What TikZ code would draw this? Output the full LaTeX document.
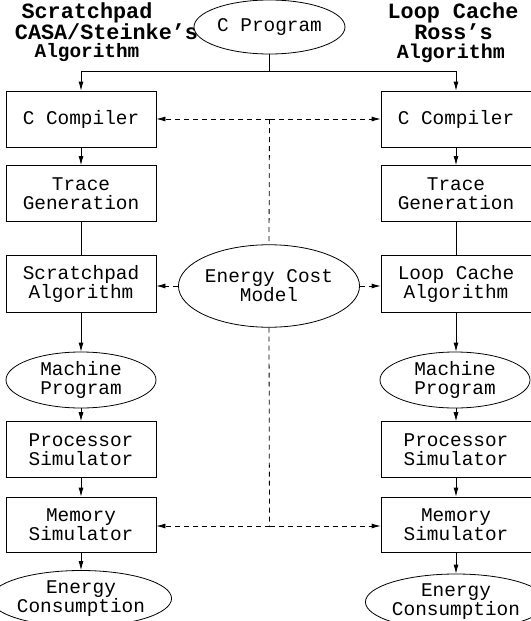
\documentclass[tikz,border=0pt]{standalone}
\usepackage{fontspec}
\newfontfamily\cour{Liberation Mono}
\usetikzlibrary{arrows.meta,shapes.geometric}
\begin{document}
\begin{tikzpicture}[x=1pt,y=-1pt,
  every node/.style={inner sep=0pt},
  box/.style={draw,line width=0.8pt,minimum width=150pt,minimum height=56pt,align=center,
    font=\cour\fontsize{19.4}{19}\selectfont},
  oval/.style={draw,ellipse,line width=0.8pt,minimum width=150pt,minimum height=56pt,align=center,
    font=\cour\fontsize{19.4}{19}\selectfont},
  ttl/.style={anchor=base,font=\cour\bfseries\fontsize{21.8}{21}\selectfont},
  ttls/.style={anchor=base,font=\cour\bfseries\fontsize{19.4}{19}\selectfont},
  conn/.style={line width=0.8pt},
  arr/.style={conn,-{Latex[length=9pt,width=5pt]}},
  darr/.style={arr,dash pattern=on 5pt off 4pt},
  dline/.style={conn,dash pattern=on 5pt off 4pt}]
\useasboundingbox (0,0) rectangle (530,621);

% titles
\node[ttl] (lt1) at (87,18.6) {Scratchpad};
\node[ttl] (lt2) at (106.5,39) {CASA/Steinke’s};
\node[ttls] (lt3) at (87,57.5) {Algorithm};
\node[ttl] (rt1) at (453,18.6) {Loop Cache};
\node[ttl] (rt2) at (453.5,39) {Ross’s};
\node[ttls,font=\cour\bfseries\fontsize{20}{20}\selectfont] (rt3) at (451,58) {Algorithm};

% top
\node[oval,fill=white,minimum width=151pt,minimum height=54pt] (cp) at (269.5,27) {C Program};

% left column
\node[box] (lcc) at (81,119) {C Compiler};
\node[box] (ltr) at (81,193.5) {Trace\\Generation};
\node[box,minimum height=57pt] (lsp) at (81,284) {Scratchpad\\Algorithm};
\node[oval] (lmp) at (81,380) {Machine\\Program};
\node[box] (lps) at (81,449.6) {Processor\\Simulator};
\node[box,minimum height=55pt] (lms) at (81,524.5) {Memory\\Simulator};
\node[oval] (lec) at (81,598.5) {Energy\\Consumption};

% right column
\node[box] (rcc) at (456,119) {C Compiler};
\node[box] (rtr) at (456,193.5) {Trace\\Generation};
\node[box,minimum height=57pt] (rsp) at (456,284) {Loop Cache\\Algorithm};
\node[oval] (rmp) at (455,380) {Machine\\Program};
\node[box] (rps) at (456,449.6) {Processor\\Simulator};
\node[box,minimum height=55pt] (rms) at (456,524.5) {Memory\\Simulator};
\node[oval] (rec) at (456,602) {Energy\\Consumption};

% center
\node[oval,minimum width=158pt,minimum height=82.5pt] (ecm) at (269,286) {Energy Cost\\Model};

% connectors
\coordinate (split) at (269.5,71);
\coordinate (dtop) at (269.5,119);
\coordinate (dbot) at (269.5,526);
\draw[conn] (cp.south) -- (split);
\draw[arr] (split) -| (lcc.north);
\draw[arr] (split) -| (rcc.north);

\draw[arr] (lcc) -- (ltr);
\draw[conn] (ltr) -- (lsp);
\draw[arr] (lsp) -- (lmp);
\draw[arr] (lmp) -- (lps);
\draw[arr] (lps) -- (lms);
\draw[arr] (lms) -- (lec);

\draw[arr] (rcc) -- (rtr);
\draw[conn] (rtr) -- (rsp);
\draw[arr] (rsp) -- (rsp |- rmp.north);
\draw[arr] (rsp |- rmp.south) -- (rps);
\draw[arr] (rps) -- (rms);
\draw[arr] (rms) -- (rec);

\draw[darr] (dtop) -- (lcc.east);
\draw[darr] (dtop) -- (rcc.west);
\draw[dline] (dtop) -- (ecm.north);
\draw[dline] (ecm.south) -- (dbot);
\draw[darr] (dbot) -- (dbot -| lms.east);
\draw[darr] (dbot) -- (dbot -| rms.west);
\draw[darr] (ecm.west) -- (ecm.west -| lsp.east);
\draw[darr] (ecm.east) -- (ecm.east -| rsp.west);
\end{tikzpicture}
\end{document}
